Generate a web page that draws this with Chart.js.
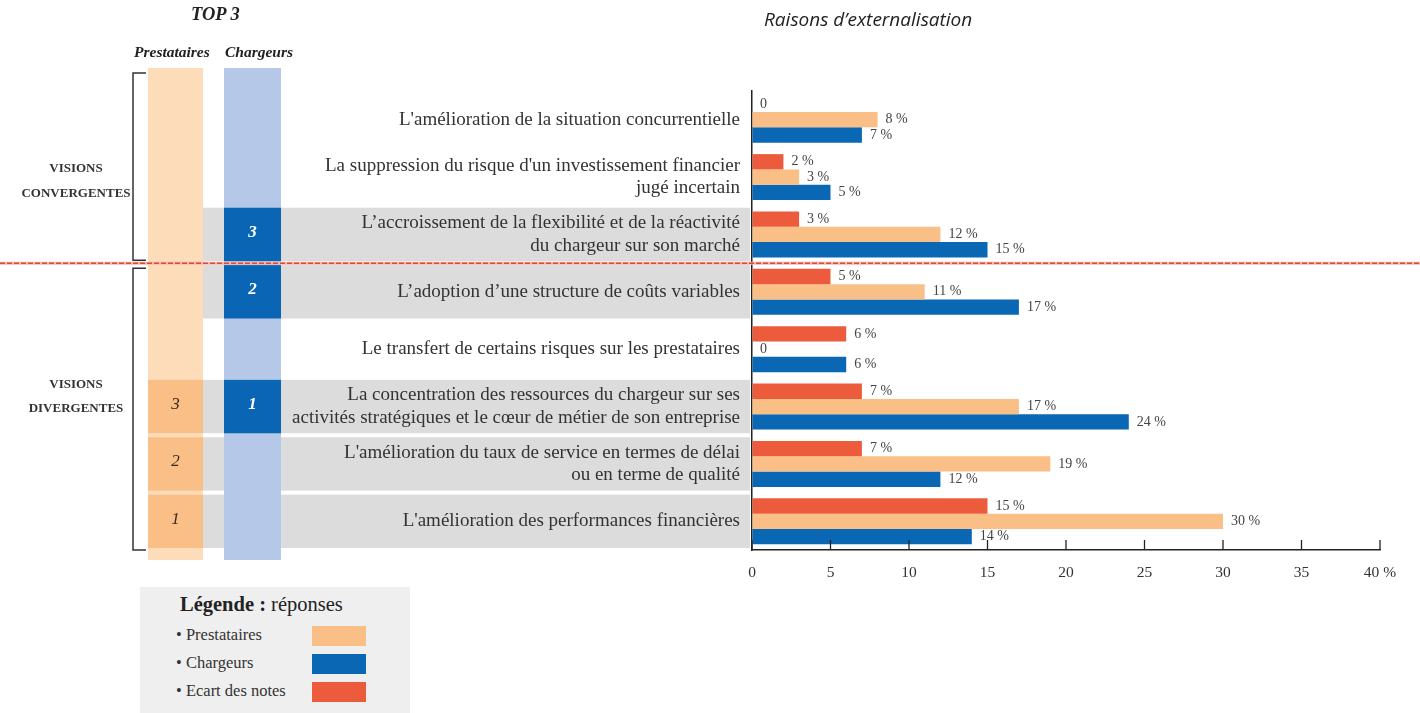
<!DOCTYPE html>
<html><head><meta charset="utf-8">
<script src="https://cdn.jsdelivr.net/npm/chart.js@4.4.1/dist/chart.umd.min.js"></script>
<style>
html,body{margin:0;padding:0;background:#fff;}
#wrap{position:relative;width:1420px;height:713px;overflow:hidden;font-family:"Liberation Serif","DejaVu Serif",serif;}
canvas{position:absolute;left:0;top:0;}
.t{position:absolute;white-space:nowrap;color:#222;z-index:2;}
.c{text-align:center;}
#legend{position:absolute;left:140px;top:587px;width:270px;height:126px;background:#efefef;z-index:0;}
.sw{position:absolute;left:172px;width:54px;height:20px;}
.li{position:absolute;left:36px;font-size:16.5px;color:#333;}
</style></head><body>
<div id="wrap">
<div id="legend">
  <div class="li" style="left:40px;top:6px;font-size:20.5px;color:#222;"><b>Légende :</b> réponses</div>
  <div class="li" style="top:38px;">• Prestataires</div>
  <div class="sw" style="top:39px;background:#f9bf86;"></div>
  <div class="li" style="top:66px;">• Chargeurs</div>
  <div class="sw" style="top:67px;background:#0a67b4;"></div>
  <div class="li" style="top:94px;">• Ecart des notes</div>
  <div class="sw" style="top:95px;background:#ec5c3c;"></div>
</div>
<canvas id="c" width="1420" height="713"></canvas>
<div class="t" style="left:191px;top:4px;font-weight:bold;font-style:italic;font-size:18.5px;">TOP 3</div>
<div class="t" style="left:134px;top:43px;font-weight:bold;font-style:italic;font-size:15.5px;">Prestataires</div>
<div class="t" style="left:225px;top:43px;font-weight:bold;font-style:italic;font-size:15.5px;">Chargeurs</div>
<div class="t" style="left:764px;top:6px;font-style:italic;font-size:19px;font-family:'Open Sans',sans-serif;color:#222;">Raisons d’externalisation</div>
<div class="t c" style="left:10px;width:132px;top:155px;font-weight:bold;font-size:13px;line-height:25px;color:#333;">VISIONS<br>CONVERGENTES</div>
<div class="t c" style="left:10px;width:132px;top:372px;font-weight:bold;font-size:13px;line-height:24px;color:#333;">VISIONS<br>DIVERGENTES</div>
</div>
<script>
const categories = [
  ["L'amélioration de la situation concurrentielle"],
  ["La suppression du risque d'un investissement financier", "jugé incertain"],
  ["L’accroissement de la flexibilité et de la réactivité", "du chargeur sur son marché"],
  ["L’adoption d’une structure de coûts variables"],
  ["Le transfert de certains risques sur les prestataires"],
  ["La concentration des ressources du chargeur sur ses", "activités stratégiques et le cœur de métier de son entreprise"],
  ["L'amélioration du taux de service en termes de délai", "ou en terme de qualité"],
  ["L'amélioration des performances financières"]
];
const ecartNotes   = [0, 2, 3, 5, 6, 7, 7, 15];
const prestataires = [8, 3, 12, 11, 0, 17, 19, 30];
const chargeurs    = [7, 5, 15, 17, 6, 24, 12, 14];
const prestRank = [null, null, null, null, null, 3, 2, 1];
const chargRank = [null, null, 3, 2, null, 1, null, null];
const groups = ["conv", "conv", "conv", "div", "div", "div", "div", "div"];
const xTickLabels = ["0", "5", "10", "15", "20", "25", "30", "35", "40 %"];

const SERIF = "'Liberation Serif','DejaVu Serif',serif";
const COL_P = [148, 203], COL_C = [224, 281];

const decor = {
  id: 'decor',
  beforeDraw(chart) {
    const ctx = chart.ctx, y = chart.scales.y;
    const half = (y.getPixelForValue(1) - y.getPixelForValue(0)) / 2;
    const axisX = chart.chartArea.left;
    ctx.save();
    // grey bands
    ctx.fillStyle = '#dcdcdd';
    categories.forEach((c, i) => {
      if (prestRank[i] != null || chargRank[i] != null) {
        const cy = y.getPixelForValue(i);
        ctx.fillRect(COL_P[0], cy - half + 2, axisX - 2 - COL_P[0], 2 * half - 4);
      }
    });
    // columns
    const top = y.getPixelForValue(0) - half - 23;
    const bot = y.getPixelForValue(categories.length - 1) + half + 10;
    ctx.fillStyle = '#fddcb9';
    ctx.fillRect(COL_P[0], top, COL_P[1] - COL_P[0], bot - top);
    ctx.fillStyle = '#b5c8e7';
    ctx.fillRect(COL_C[0], top, COL_C[1] - COL_C[0], bot - top);
    // rank cells
    ctx.textAlign = 'center'; ctx.textBaseline = 'middle';
    categories.forEach((c, i) => {
      const cy = y.getPixelForValue(i);
      if (prestRank[i] != null) {
        ctx.fillStyle = '#f9bf86';
        ctx.fillRect(COL_P[0], cy - half + 2, COL_P[1] - COL_P[0], 2 * half - 4);
        ctx.fillStyle = '#3a2a1e';
        ctx.font = 'italic 17px ' + SERIF;
        ctx.fillText(String(prestRank[i]), (COL_P[0] + COL_P[1]) / 2, cy - 2);
      }
      if (chargRank[i] != null) {
        ctx.fillStyle = '#0a66b4';
        ctx.fillRect(COL_C[0], cy - half + 2, COL_C[1] - COL_C[0], 2 * half - 4);
        ctx.fillStyle = '#ffffff';
        ctx.font = 'italic bold 17px ' + SERIF;
        ctx.fillText(String(chargRank[i]), (COL_C[0] + COL_C[1]) / 2, cy - 2);
      }
    });
    // brackets
    const idxConv = groups.map((g, i) => g === 'conv' ? i : -1).filter(i => i >= 0);
    const idxDiv = groups.map((g, i) => g === 'div' ? i : -1).filter(i => i >= 0);
    ctx.strokeStyle = '#333'; ctx.lineWidth = 1.5;
    const bracket = (t, b) => {
      ctx.beginPath();
      ctx.moveTo(146, t); ctx.lineTo(133, t); ctx.lineTo(133, b); ctx.lineTo(146, b);
      ctx.stroke();
    };
    bracket(y.getPixelForValue(idxConv[0]) - half - 18, y.getPixelForValue(idxConv[idxConv.length - 1]) + half - 3);
    bracket(y.getPixelForValue(idxDiv[0]) - half + 5, y.getPixelForValue(idxDiv[idxDiv.length - 1]) + half);
    ctx.restore();
  },
  afterDatasetsDraw(chart) {
    const ctx = chart.ctx, x = chart.scales.x, y = chart.scales.y;
    ctx.save();
    // data labels
    ctx.font = '14px ' + SERIF;
    ctx.fillStyle = '#444';
    ctx.textAlign = 'left'; ctx.textBaseline = 'middle';
    chart.data.datasets.forEach((ds, di) => {
      const meta = chart.getDatasetMeta(di);
      meta.data.forEach((bar, i) => {
        const v = ds.data[i];
        ctx.fillText(v === 0 ? '0' : v + ' %', bar.x + 8, bar.y);
      });
    });
    // inner tick marks
    ctx.strokeStyle = '#222'; ctx.lineWidth = 1.3;
    const b = chart.chartArea.bottom;
    x.ticks.forEach(t => {
      const px = x.getPixelForValue(t.value);
      ctx.beginPath(); ctx.moveTo(px, b); ctx.lineTo(px, b - 10); ctx.stroke();
    });
    // separator
    const idxDiv = groups.indexOf('div');
    const sy = (y.getPixelForValue(idxDiv - 1) + y.getPixelForValue(idxDiv)) / 2;
    ctx.strokeStyle = '#f2b8b0'; ctx.lineWidth = 3; ctx.setLineDash([]);
    ctx.beginPath(); ctx.moveTo(0, sy); ctx.lineTo(1420, sy); ctx.stroke();
    ctx.strokeStyle = '#e04a35'; ctx.lineWidth = 1.5; ctx.setLineDash([5, 2]);
    ctx.beginPath(); ctx.moveTo(0, sy); ctx.lineTo(1420, sy); ctx.stroke();
    ctx.restore();
  }
};

new Chart(document.getElementById('c'), {
  type: 'bar',
  data: {
    labels: categories,
    datasets: [
      { label: 'Ecart des notes', data: ecartNotes, backgroundColor: '#ec5c3c' },
      { label: 'Prestataires', data: prestataires, backgroundColor: '#f9bf86' },
      { label: 'Chargeurs', data: chargeurs, backgroundColor: '#0a67b4' }
    ]
  },
  options: {
    indexAxis: 'y',
    responsive: false,
    animation: false,
    categoryPercentage: 0.8,
    barPercentage: 1.0,
    layout: { padding: { top: 91, right: 40, left: 0, bottom: 0 } },
    plugins: { legend: { display: false }, tooltip: { enabled: false }, title: { display: false } },
    scales: {
      x: {
        min: 0, max: 40,
        afterFit: s => { s.height = 163; },
        ticks: { stepSize: 5, padding: 14, color: '#333', font: { family: SERIF, size: 15.5 },
          callback: (v, i) => xTickLabels[i] },
        grid: { display: true, drawOnChartArea: false, drawTicks: false },
        border: { display: true, color: '#222', width: 1.5 }
      },
      y: {
        afterFit: s => { s.width = 752; },
        ticks: { autoSkip: false, padding: 12, color: '#333', font: { family: SERIF, size: 19, lineHeight: 1.2 } },
        grid: { display: true, drawOnChartArea: false, drawTicks: false },
        border: { display: true, color: '#222', width: 1.5 }
      }
    }
  },
  plugins: [decor]
});
</script>
</body></html>
